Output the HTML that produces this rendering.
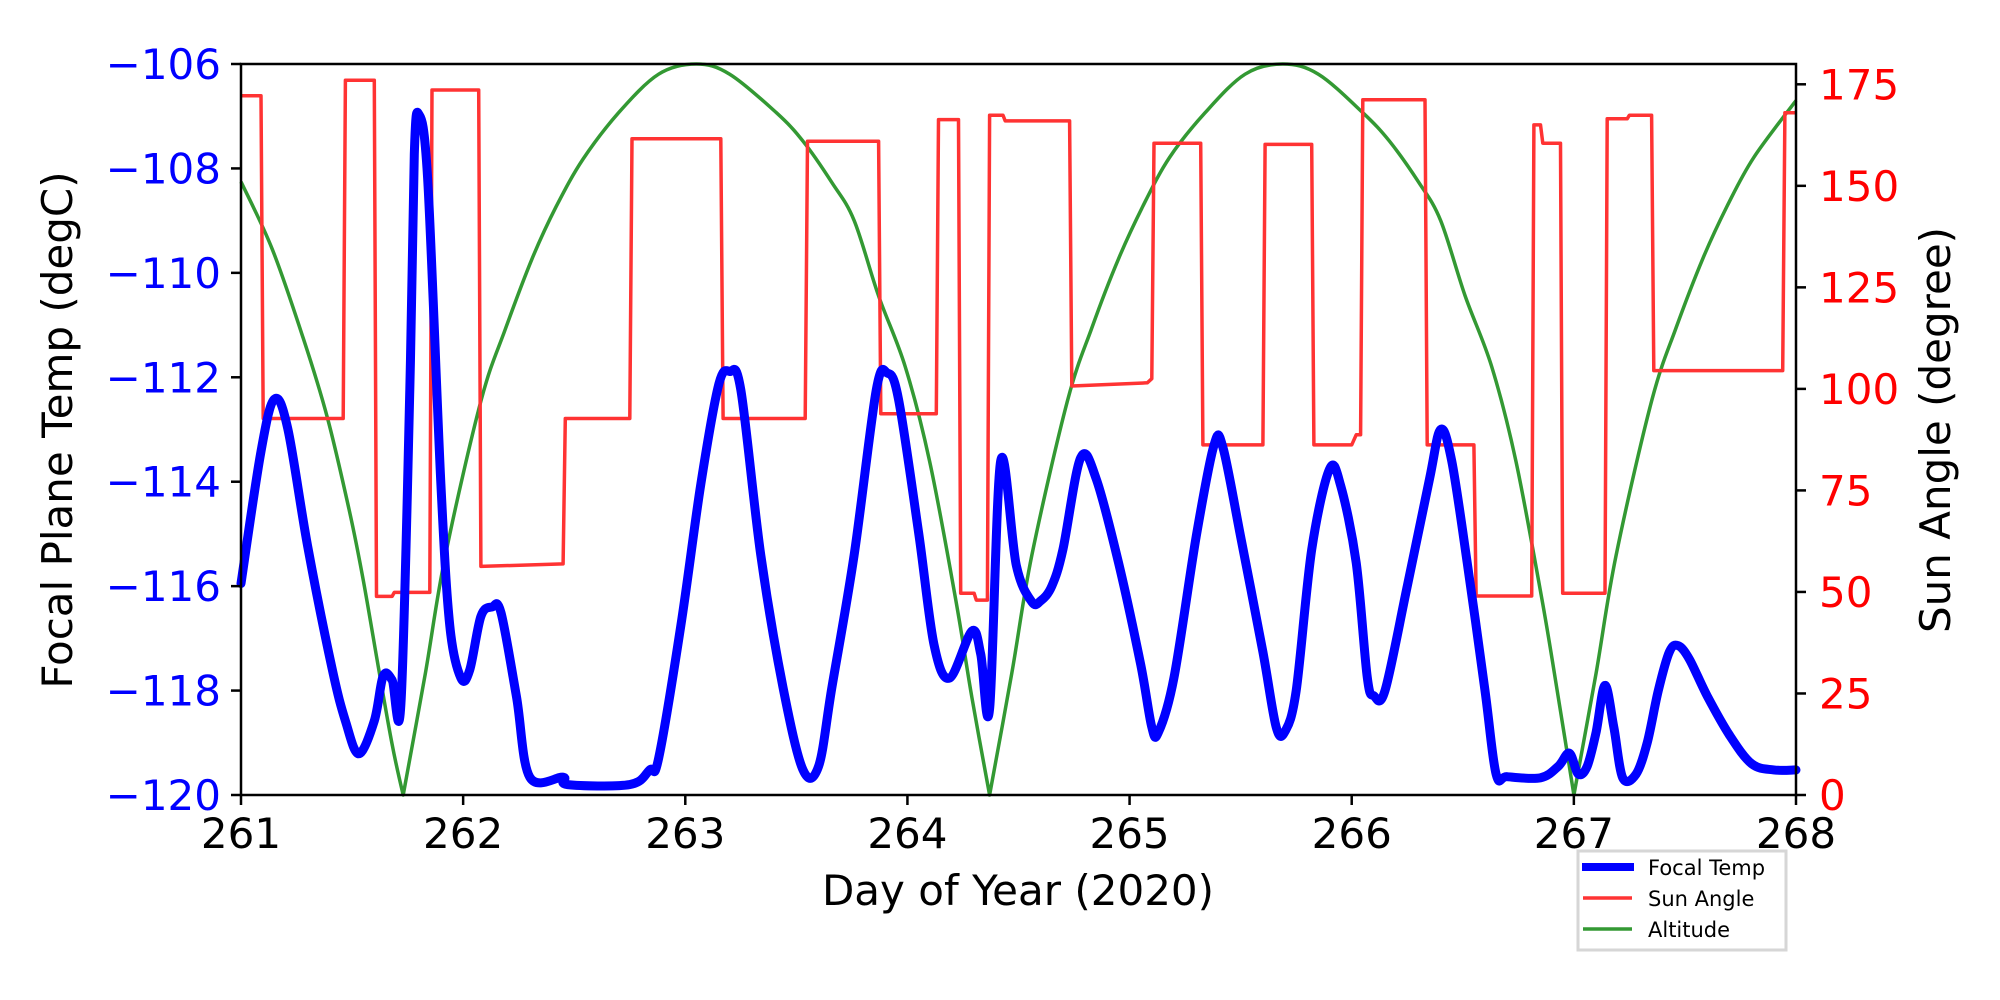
<!DOCTYPE html>
<html><head><meta charset="utf-8"><style>
html,body{margin:0;padding:0;background:#fff}
svg{display:block}
text{font-family:"DejaVu Sans","Liberation Sans",sans-serif}
</style></head><body>
<svg id="chart" width="2000" height="1000" viewBox="0 0 2000 1000">
<rect width="2000" height="1000" fill="#fff"/>
<g id="plot"></g>
<g id="axes"></g>
<text x="1018" y="905" font-size="42" text-anchor="middle" fill="#000">Day of Year (2020)</text>
<text transform="translate(72,430) rotate(-90)" font-size="42" text-anchor="middle" fill="#000">Focal Plane Temp (degC)</text>
<text transform="translate(1950,430) rotate(-90)" font-size="42" text-anchor="middle" fill="#000">Sun Angle (degree)</text>
<g>
<rect x="1578" y="851" width="208" height="99" fill="#fff" stroke="#d6d6d6" stroke-width="3"/>
<line x1="1582" y1="867" x2="1634" y2="867" stroke="#0000ff" stroke-width="8"/>
<text x="1648" y="875" font-size="21">Focal Temp</text>
<line x1="1583" y1="898" x2="1632" y2="898" stroke="#ff3333" stroke-width="3.5"/>
<text x="1648" y="906" font-size="21">Sun Angle</text>
<line x1="1583" y1="929" x2="1632" y2="929" stroke="#339933" stroke-width="3.5"/>
<text x="1648" y="937" font-size="21">Altitude</text>
</g>
</svg>
<script>
const xTicks = [261,262,263,264,265,266,267,268];
const leftTicks = [-120,-118,-116,-114,-112,-110,-108,-106];
const rightTicks = [0,25,50,75,100,125,150,175];

const altDays = [261.0,261.14,261.28,261.39,261.49,261.55,261.62,261.68,261.73,261.83,261.92,262.08,262.19,262.31,262.42,262.54,262.7,262.88,263.05,263.2,263.41,263.53,263.66,263.76,263.87,263.99,264.1,264.22,264.29,264.37,264.47,264.56,264.72,264.83,264.95,265.06,265.18,265.34,265.52,265.69,265.85,266.05,266.17,266.3,266.4,266.51,266.63,266.74,266.86,266.93,267.0,267.1,267.19,267.35,267.46,267.58,267.69,267.81,268.0];
const altVals = [151,134.5,112.5,92.7,69.4,53,31,12.5,0,30,59,97,114.7,132,145,156.6,168,177.5,180,177.5,168,161,150.8,141.5,122.9,105.5,82.2,47.3,24,0,30,59,97,115,132,145,157,168,177.5,180,177.5,168,161,151,141.5,123,105.5,82,47,24,0,30,59,97,115,132,145,157,171];

const sunDays = [261.0,261.09,261.1,261.46,261.47,261.6,261.61,261.68,261.69,261.85,261.86,262.07,262.08,262.45,262.46,262.75,262.76,263.16,263.17,263.54,263.55,263.87,263.88,264.13,264.14,264.23,264.24,264.3,264.31,264.36,264.37,264.43,264.44,264.73,264.74,265.08,265.1,265.11,265.32,265.33,265.6,265.61,265.82,265.83,266.0,266.02,266.04,266.05,266.33,266.34,266.55,266.56,266.81,266.82,266.85,266.86,266.94,266.95,267.14,267.15,267.24,267.25,267.35,267.36,267.94,267.95,268.0];
const sunVals = [172.2,172.2,92.7,92.7,176,176,48.9,48.9,49.9,49.9,173.6,173.6,56.3,56.9,92.7,92.7,161.6,161.6,92.7,92.7,161,161,93.9,93.9,166.3,166.3,49.7,49.7,48,48,167.4,167.4,166,166,100.7,101.5,102.5,160.5,160.5,86.2,86.2,160.2,160.2,86.2,86.2,88.7,88.7,171.2,171.2,86.2,86.2,49,49,165,165,160.5,160.5,49.7,49.7,166.5,166.5,167.4,167.4,104.5,104.5,168,168];

const tempDays = [261.0,261.09,261.15,261.21,261.3,261.41,261.47,261.53,261.6,261.64,261.68,261.72,261.76,261.78,261.8,261.84,261.9,261.94,261.99,262.03,262.08,262.13,262.17,262.24,262.3,262.45,262.47,262.75,262.84,262.88,262.98,263.07,263.15,263.2,263.25,263.34,263.44,263.53,263.6,263.66,263.76,263.86,263.91,263.96,264.05,264.12,264.19,264.29,264.33,264.37,264.42,264.49,264.56,264.6,264.65,264.7,264.78,264.85,264.95,265.05,265.1,265.13,265.2,265.3,265.38,265.42,265.5,265.6,265.66,265.7,265.75,265.82,265.9,265.95,266.02,266.07,266.1,266.15,266.25,266.35,266.4,266.45,266.52,266.6,266.65,266.7,266.85,266.93,266.98,267.02,267.06,267.1,267.14,267.18,267.22,267.28,267.33,267.38,267.43,267.47,267.52,267.6,267.7,267.8,267.9,268.0];
const tempVals = [-115.95,-113.42,-112.42,-112.97,-115.23,-117.58,-118.58,-119.21,-118.58,-117.72,-117.8,-118.26,-112.24,-107.73,-106.96,-108.18,-114.05,-116.76,-117.76,-117.6,-116.58,-116.4,-116.5,-118.12,-119.66,-119.66,-119.8,-119.8,-119.52,-119.3,-116.76,-114.05,-112.15,-111.89,-112.24,-115.41,-117.94,-119.52,-119.45,-117.94,-115.41,-112.24,-111.92,-112.42,-114.96,-117.13,-117.76,-116.86,-117.3,-118.35,-113.6,-115.6,-116.3,-116.28,-116.0,-115.3,-113.54,-113.95,-115.55,-117.5,-118.7,-118.8,-117.75,-115.05,-113.3,-113.34,-115.05,-117.26,-118.7,-118.78,-118.0,-115.3,-113.76,-114.07,-115.55,-117.75,-118.1,-118.0,-116.0,-113.95,-113.0,-113.6,-115.55,-118.0,-119.6,-119.65,-119.67,-119.45,-119.2,-119.6,-119.45,-118.8,-117.9,-118.7,-119.67,-119.6,-119.0,-118.0,-117.26,-117.14,-117.4,-118.1,-118.85,-119.4,-119.52,-119.52];

const X0=241,X1=1796,Y0=64,Y1=795;
const xS=d=>X0+(d-261)/7*(X1-X0);
const yL=v=>Y1-(v+120)/14*(Y1-Y0);
const yR=v=>Y1-v/180*(Y1-Y0);
const NS='http://www.w3.org/2000/svg';
const plot=document.getElementById('plot'), axes=document.getElementById('axes');
function mk(tag,attrs,parent){const e=document.createElementNS(NS,tag);for(const k in attrs)e.setAttribute(k,attrs[k]);parent.appendChild(e);return e;}
function pathD(xs,ys,fy){return xs.map((d,i)=>(i?'L':'M')+xS(d).toFixed(1)+' '+fy(ys[i]).toFixed(1)).join(' ');}
function smoothD(xs,ys,fy,sharp){
  const P=xs.map((d,i)=>[xS(d),fy(ys[i])]);
  let s='M'+P[0][0].toFixed(1)+' '+P[0][1].toFixed(1);
  for(let i=0;i<P.length-1;i++){
    const p0=P[Math.max(0,i-1)],p1=P[i],p2=P[i+1],p3=P[Math.min(P.length-1,i+2)];
    const k=1/6;
    let c1=[p1[0]+(p2[0]-p0[0])*k,p1[1]+(p2[1]-p0[1])*k];
    let c2=[p2[0]-(p3[0]-p1[0])*k,p2[1]-(p3[1]-p1[1])*k];
    if(sharp&&sharp(i)) c1=p1.slice();
    if(sharp&&sharp(i+1)) c2=p2.slice();
    s+=' C'+c1[0].toFixed(1)+' '+c1[1].toFixed(1)+' '+c2[0].toFixed(1)+' '+c2[1].toFixed(1)+' '+p2[0].toFixed(1)+' '+p2[1].toFixed(1);
  }
  return s;
}

const alt=mk('path',{d:smoothD(altDays,altVals,yR,i=>altVals[i]===0),fill:'none',stroke:'#339933','stroke-width':3.5,'stroke-linejoin':'round'},plot);


const sun=mk('path',{d:pathD(sunDays,sunVals,yR),fill:'none',stroke:'#ff3333','stroke-width':3.5,'stroke-linejoin':'round'},plot);


const tmp=mk('path',{d:smoothD(tempDays,tempVals,yL),fill:'none',stroke:'#0000ff','stroke-width':9,'stroke-linejoin':'round','stroke-linecap':'round'},plot);



const frame=mk('rect',{x:X0,y:Y0,width:X1-X0,height:Y1-Y0,fill:'none',stroke:'#000','stroke-width':2.5},axes);



xTicks.forEach(t=>{
  const x=xS(t);
  const l=mk('line',{x1:x,y1:Y1,x2:x,y2:Y1+10,stroke:'#000','stroke-width':2.5},axes);
  
  
  const tx=mk('text',{x:x,y:848,'font-size':42,'text-anchor':'middle',fill:'#000'},axes);
  tx.textContent=t;
  
  
});
leftTicks.forEach(t=>{
  const y=yL(t);
  const l=mk('line',{x1:X0-10,y1:y,x2:X0,y2:y,stroke:'#000','stroke-width':2.5},axes);
  
  
  const tx=mk('text',{x:221,y:y+15,'font-size':42,'text-anchor':'end',fill:'#0000ff'},axes);
  tx.textContent=(t<0?'\u2212'+Math.abs(t):t);
  
  
});
rightTicks.forEach(t=>{
  const y=yR(t);
  const l=mk('line',{x1:X1,y1:y,x2:X1+10,y2:y,stroke:'#000','stroke-width':2.5},axes);
  
  
  const tx=mk('text',{x:1819,y:y+15,'font-size':42,'text-anchor':'start',fill:'#ff0000'},axes);
  tx.textContent=t;
  
  
});
</script>
</body></html>
